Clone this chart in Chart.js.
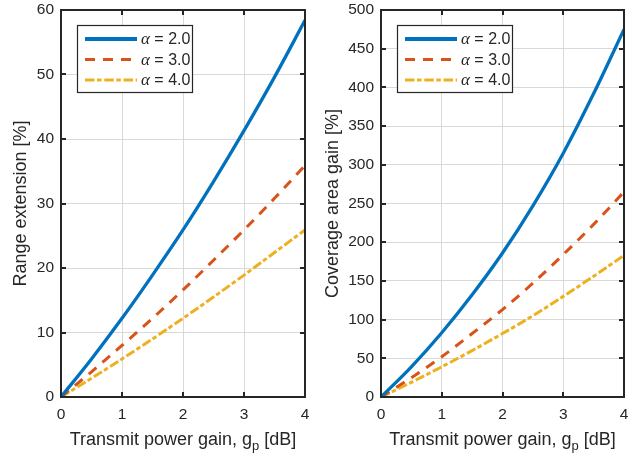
<!DOCTYPE html>
<html><head><meta charset="utf-8">
<script src="https://cdn.jsdelivr.net/npm/chart.js@4"></script>
<style>
body{margin:0;background:#fff;width:639px;height:456px;overflow:hidden;position:relative}
canvas{position:absolute;top:0;left:0}
</style></head>
<body>
<div style="position:absolute;left:0;top:0;width:320px;height:456px"><canvas id="a" width="320" height="456"></canvas></div>
<div style="position:absolute;left:320px;top:0;width:319px;height:456px"><canvas id="b" width="319" height="456"></canvas></div>
<script>
// ---- data ----
const gains = [0, 0.5, 1, 1.5, 2, 2.5, 3, 3.5, 4];
const alphaLabels = ['2.0', '3.0', '4.0'];
const rangeAlpha2 = [0, 5.9, 12.2, 18.9, 25.9, 33.4, 41.3, 49.6, 58.4];
const rangeAlpha3 = [0, 3.9, 8.0, 12.2, 16.6, 21.2, 25.9, 30.8, 35.9];
const rangeAlpha4 = [0, 2.9, 5.9, 9.0, 12.2, 15.5, 18.9, 22.4, 25.9];
const coverAlpha2 = [0, 39, 83, 132, 186, 247, 315, 392, 475];
const coverAlpha3 = [0, 25, 52, 82, 113, 147, 184, 223, 265];
const coverAlpha4 = [0, 19, 39, 60, 82, 105, 130, 156, 183];
const xTicks = [0, 1, 2, 3, 4];
const rangeTicks = [0, 10, 20, 30, 40, 50, 60];
const coverTicks = [0, 50, 100, 150, 200, 250, 300, 350, 400, 450, 500];
const xTitleMain = 'Transmit power gain, g';
const xTitleSub = 'p';
const xTitleEnd = ' [dB]';
const rangeTitle = 'Range extension [%]';
const coverTitle = 'Coverage area gain [%]';

const COLORS = ['#0072BD', '#D95319', '#EDB120'];
const DASHES = [[], [10, 8], [9.5, 2.5, 4.5, 2.8]];
const WIDTHS = [3.3, 3, 3];
const FONT = '"Liberation Sans", Arial, sans-serif';
const INK = '#262626';

function pts(ys) { return gains.map((g, i) => ({x: g, y: ys[i]})); }

const framePlugin = {
  id: 'frame',
  afterDraw(chart) {
    const ctx = chart.ctx;
    const {left, right, top, bottom} = chart.chartArea;
    const o = chart.options.plugins.frame;
    ctx.save();
    ctx.strokeStyle = INK;
    ctx.lineWidth = 2;
    ctx.strokeRect(Math.round(left), Math.round(top), Math.round(right - left), Math.round(bottom - top));
    const L = 5;
    ctx.beginPath();
    xTicks.forEach(v => {
      const px = Math.round(chart.scales.x.getPixelForValue(v));
      ctx.moveTo(px, bottom); ctx.lineTo(px, bottom - L);
      ctx.moveTo(px, top); ctx.lineTo(px, top + L);
    });
    o.yTicks.forEach(v => {
      const py = Math.round(chart.scales.y.getPixelForValue(v));
      ctx.moveTo(left, py); ctx.lineTo(left + L, py);
      ctx.moveTo(right, py); ctx.lineTo(right - L, py);
    });
    ctx.stroke();

    // legend
    const lx = Math.round(left) + 16, ly = Math.round(top) + 15, lw = 115, lh = 67;
    ctx.fillStyle = '#fff';
    ctx.fillRect(lx, ly, lw, lh);
    ctx.lineWidth = 1.2;
    ctx.strokeStyle = INK;
    ctx.strokeRect(lx + 0.5, ly + 0.5, lw, lh);
    alphaLabels.forEach((lab, i) => {
      const yy = ly + 14 + i * 20.5;
      ctx.save();
      ctx.strokeStyle = COLORS[i];
      ctx.lineWidth = i === 0 ? 4 : 3;
      ctx.setLineDash(DASHES[i]);
      ctx.beginPath(); ctx.moveTo(lx + 8, yy); ctx.lineTo(lx + 60, yy); ctx.stroke();
      ctx.restore();
      ctx.fillStyle = INK;
      ctx.textBaseline = 'middle';
      ctx.textAlign = 'left';
      ctx.font = 'italic 17px "Liberation Serif", serif';
      ctx.fillText('\u03B1', lx + 64, yy + 1);
      const aw = ctx.measureText('\u03B1').width;
      ctx.font = '16px ' + FONT;
      ctx.fillText(' = ' + lab, lx + 64 + aw, yy + 1);
    });

    // x title with subscript
    ctx.fillStyle = INK;
    ctx.textBaseline = 'alphabetic';
    ctx.textAlign = 'left';
    ctx.font = '18px ' + FONT;
    const w1 = ctx.measureText(xTitleMain).width;
    const w3 = ctx.measureText(xTitleEnd).width;
    ctx.font = '13px ' + FONT;
    const w2 = ctx.measureText(xTitleSub).width;
    const total = w1 + w2 + w3;
    let sx = (left + right) / 2 - total / 2;
    const by = 445;
    ctx.font = '18px ' + FONT;
    ctx.fillText(xTitleMain, sx, by);
    ctx.font = '13px ' + FONT;
    ctx.fillText(xTitleSub, sx + w1, by + 5);
    ctx.font = '18px ' + FONT;
    ctx.fillText(xTitleEnd, sx + w1 + w2, by);

    // y title
    ctx.save();
    ctx.translate(o.yTitleX, (top + bottom) / 2);
    ctx.rotate(-Math.PI / 2);
    ctx.textAlign = 'center';
    ctx.textBaseline = 'middle';
    ctx.font = '18px ' + FONT;
    ctx.fillText(o.yTitle, 0, 0);
    ctx.restore();
    ctx.restore();
  }
};

function makeChart(id, series, yMax, yTicks, yTitle, yTitleX) {
  return new Chart(document.getElementById(id), {
    type: 'line',
    data: {
      datasets: series.map((s, i) => ({
        data: pts(s),
        borderColor: COLORS[i],
        borderWidth: WIDTHS[i],
        borderDash: DASHES[i],
        pointRadius: 0,
        fill: false,
        cubicInterpolationMode: 'monotone'
      }))
    },
    options: {
      responsive: false,
      animation: false,
      devicePixelRatio: 1,
      layout: {padding: {top: 10, right: 15, left: 0, bottom: 0}},
      plugins: {
        legend: {display: false},
        tooltip: {enabled: false},
        frame: {yTicks: yTicks, yTitle: yTitle, yTitleX: yTitleX}
      },
      scales: {
        x: {
          type: 'linear', min: 0, max: 4,
          afterBuildTicks(s) { s.ticks = xTicks.map(v => ({value: v})); },
          afterFit(s) { s.height = 59; s.paddingLeft = 0; s.paddingRight = 0; },
          grid: {color: '#d9d9d9', drawTicks: false, lineWidth: 1},
          border: {display: false},
          ticks: {color: INK, font: {family: FONT, size: 15.5}, padding: 8, maxRotation: 0}
        },
        y: {
          type: 'linear', min: 0, max: yMax,
          afterBuildTicks(s) { s.ticks = yTicks.map(v => ({value: v})); },
          afterFit(s) { s.width = 61; s.paddingTop = 0; s.paddingBottom = 0; },
          grid: {color: '#d9d9d9', drawTicks: false, lineWidth: 1},
          border: {display: false},
          ticks: {color: INK, font: {family: FONT, size: 15.5}, padding: 7}
        }
      }
    },
    plugins: [framePlugin]
  });
}

makeChart('a', [rangeAlpha2, rangeAlpha3, rangeAlpha4], 60, rangeTicks, rangeTitle, 21);
makeChart('b', [coverAlpha2, coverAlpha3, coverAlpha4], 500, coverTicks, coverTitle, 13);
</script>
</body></html>
